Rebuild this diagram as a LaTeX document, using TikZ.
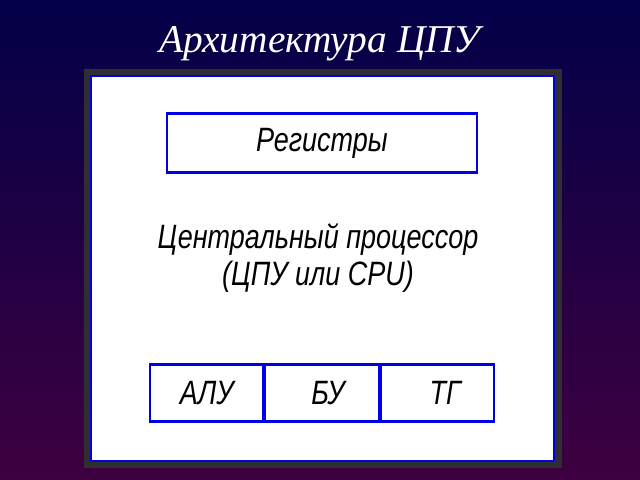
\documentclass[tikz,border=0pt]{standalone}
\usepackage{fontspec}
\setmainfont{Liberation Serif}
\newfontfamily\gost[FakeStretch=0.8]{Liberation Sans}
\usetikzlibrary{matrix,positioning}

\definecolor{topbg}{RGB}{2,0,72}
\definecolor{botbg}{RGB}{62,0,64}
\definecolor{framegray}{RGB}{48,46,50}
\definecolor{lineblue}{RGB}{0,0,230}

\begin{document}
\begin{tikzpicture}[x=0.025cm, y=-0.025cm, unitbox/.style={draw=lineblue, line width=1.6pt, font=\gost\itshape\fontsize{24}{26}\selectfont}]
\shade[top color=topbg, bottom color=botbg] (0,0) rectangle (640,480);
\useasboundingbox (0,0) rectangle (640,480);
\node[text=white, font=\itshape\fontsize{28}{30}\selectfont] (title) at (320,44) {Архитектура ЦПУ};
\fill[framegray] (84,69) rectangle (562,468);
\draw[lineblue, line width=1.8pt, fill=white] (91,76) rectangle (554,461);
\node[unitbox, minimum width=7.75cm, minimum height=1.47cm] (reg) at (322,143) {Регистры};
\node[font=\gost\itshape\fontsize{24}{26}\selectfont, align=center] (cpu) at (318,258) {Центральный процессор\\(ЦПУ или CPU)};
\matrix (U)[matrix of nodes, column sep=-\pgflinewidth, nodes={unitbox, anchor=center, align=center, inner sep=0pt, minimum height=1.42cm, text width=2.84cm}] at (322,393) {
АЛУ & \hspace*{0.3cm}БУ & \hspace*{0.4cm}ТГ \\
};
\end{tikzpicture}
\end{document}
